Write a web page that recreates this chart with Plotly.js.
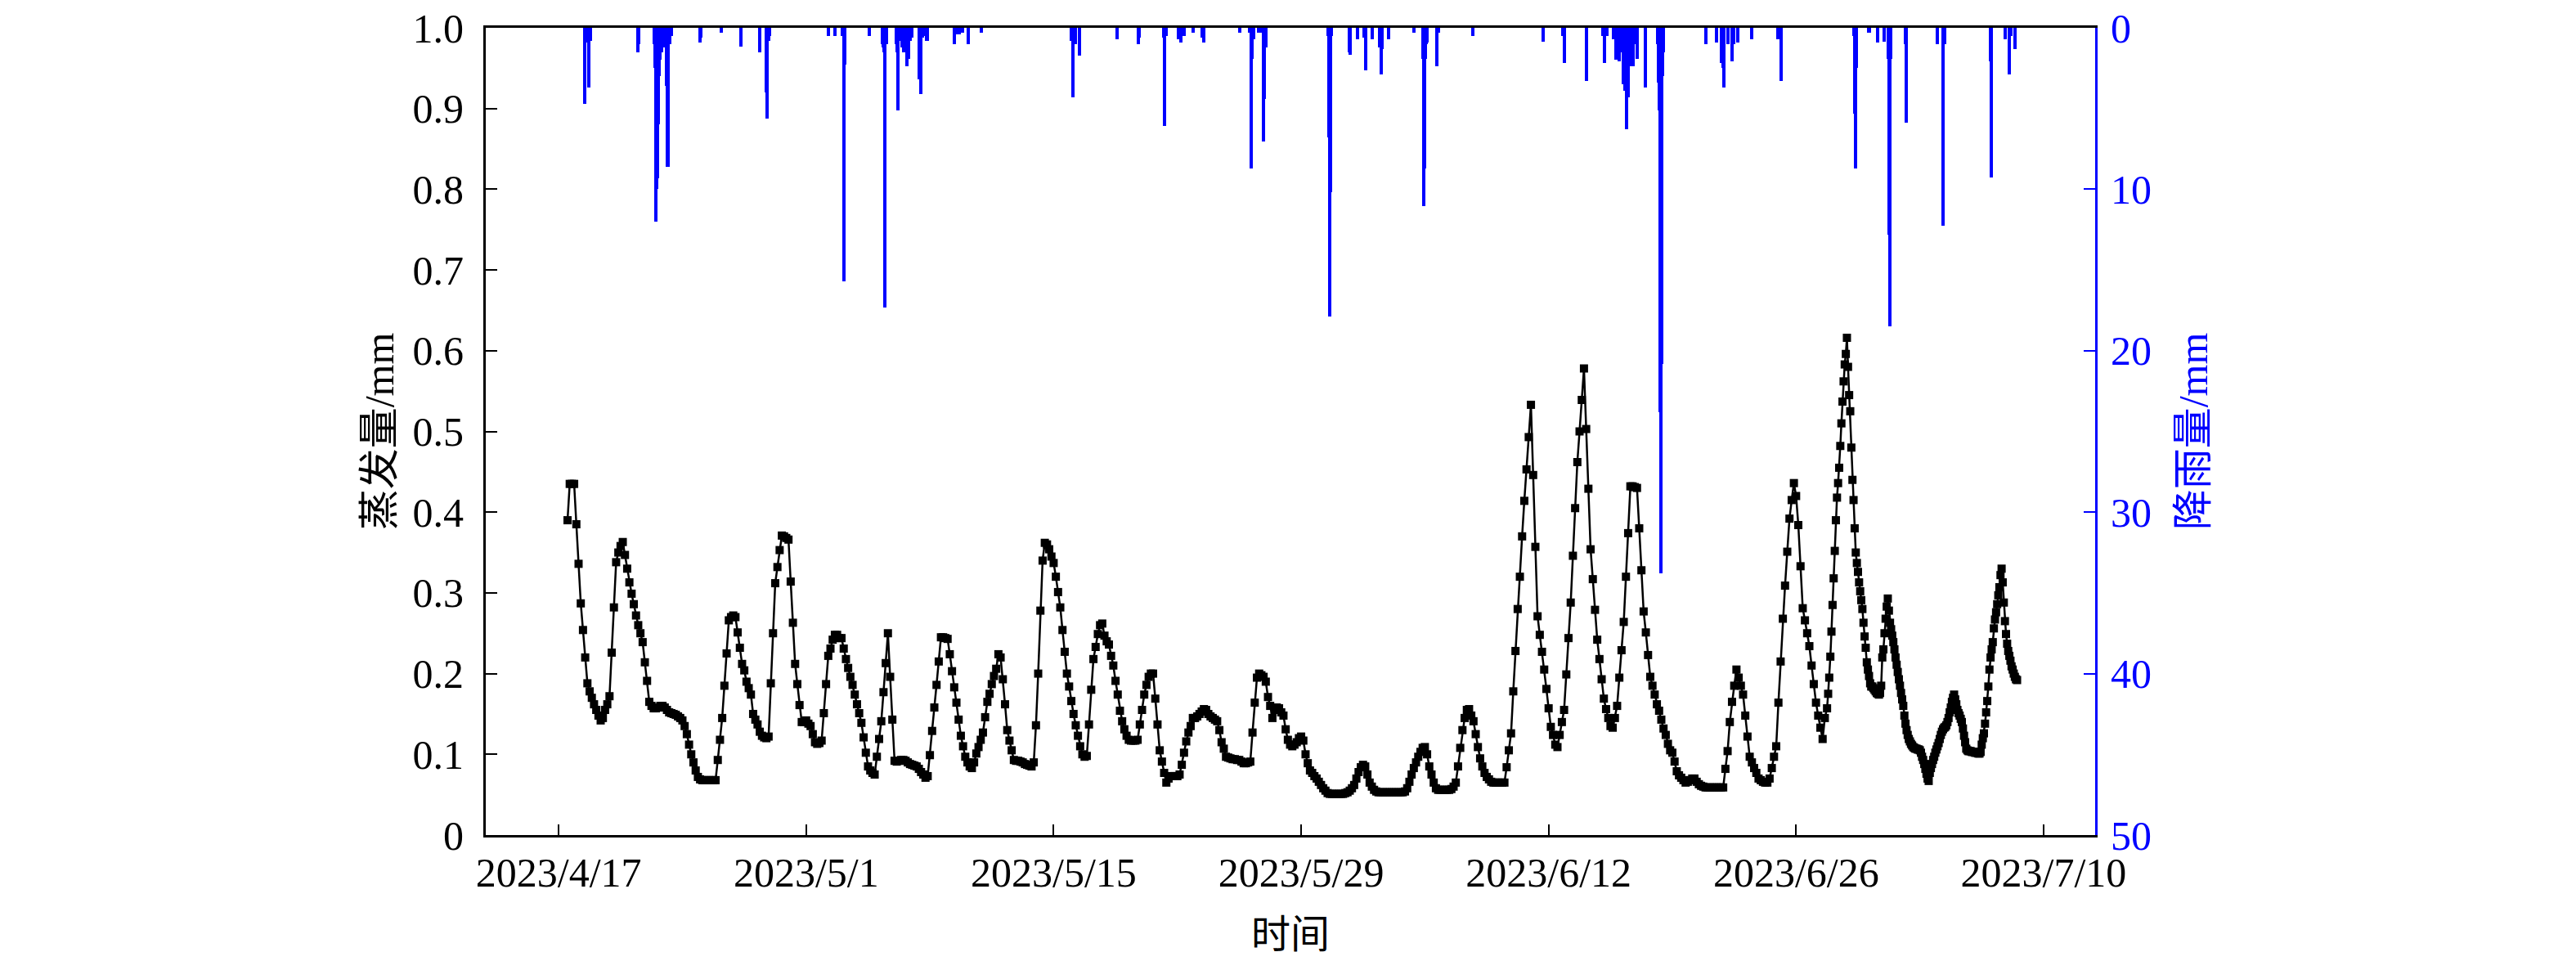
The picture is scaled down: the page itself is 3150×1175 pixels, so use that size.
<!DOCTYPE html>
<html>
<head>
<meta charset="utf-8">
<script src="https://cdn.plot.ly/plotly-3.0.1.min.js"></script>
<style>html,body{margin:0;padding:0;background:#fff;}#chart{width:3150px;height:1175px;}</style>
</head>
<body>
<div id="chart"></div>
<script>
// ---------- DATA ----------
// Evaporation, 3-hourly, starting 2023-04-17 12:00
const evapStartA = '2023-04-17T12:00:00Z';
const evapStepHoursA = 3;
const evapA = [
// 4/17 (12,15,18,21h)
0.39,0.435,0.435,0.435,
// 4/18
0.385,0.336,0.287,0.254,0.220,0.188,0.178,0.170,
// 4/19
0.162,0.155,0.148,0.142,0.145,0.155,0.162,0.172,
// 4/20
0.226,0.282,0.338,0.350,0.358,0.363,0.347,0.330,
// 4/21
0.313,0.299,0.286,0.272,0.260,0.250,0.239,0.214,
// 4/22
0.191,0.165,0.160,0.157,0.157,0.158,0.160,0.160,
// 4/23
0.158,0.155,0.152,0.151,0.150,0.149,0.147,0.145,
// 4/24
0.142,0.135,0.125,0.112,0.100,0.090,0.080,0.072,
// 4/25
0.069,0.068,0.068,0.068,0.068,0.068,0.068,0.068,
// 4/26
0.093,0.118,0.145,0.185,0.225,0.266,0.270,0.272,
// 4/27
0.270,0.251,0.232,0.212,0.204,0.190,0.182,0.174,
// 4/28
0.150,0.143,0.137,0.128,0.123,0.121,0.120,0.122,
// 4/29
0.188,0.250,0.312,0.332,0.353,0.371,0.370,0.368,
// 4/30
0.366,0.314,0.263,0.212,0.187,0.161,0.140,0.140,
// 5/1
0.142,0.138,0.135,0.125,0.115,0.113,0.114,0.117,
// 5/2
0.151,0.187,0.222,0.231,0.242,0.248,0.248,0.244,
// 5/3
0.244,0.231,0.218,0.207,0.196,0.186,0.174,0.162,
// 5/4
0.151,0.139,0.121,0.102,0.085,0.080,0.077,0.075,
// 5/5
0.097,0.119,0.141,0.177,0.213,0.250,0.196,0.143,
// 5/6
0.092,0.091,0.092,0.093,0.093,0.092,0.090,0.088,
// 5/7
0.087,0.086,0.085,0.082,0.078,0.075,0.071,0.073,
// 5/8
0.099,0.129,0.158,0.186,0.215,0.245,0.245,0.244,
// 5/9
0.243,0.224,0.203,0.183,0.164,0.143,0.123,0.110,
// 5/10
0.097,0.090,0.085,0.083,0.090,0.101,0.109,0.118,
// 5/11
0.127,0.146,0.165,0.175,0.187,0.197,0.206,0.224,
// 5/12
0.220,0.193,0.162,0.130,0.117,0.105,0.093,0.092,
// 5/13
0.092,0.091,0.090,0.088,0.087,0.086,0.085,0.090,
// 5/14
0.136,0.200,0.278,0.340,0.362,0.360,0.354,0.345,
// 5/15
0.337,0.320,0.301,0.282,0.254,0.227,0.200,0.184,
// 5/16
0.166,0.150,0.136,0.123,0.110,0.100,0.097,0.098,
// 5/17
0.137,0.180,0.218,0.233,0.249,0.260,0.262,0.247,
// 5/18
0.240,0.236,0.222,0.210,0.191,0.174,0.154,0.141,
// 5/19
0.131,0.123,0.118,0.117,0.117,0.117,0.118,0.137,
// 5/20
0.155,0.174,0.186,0.196,0.200,0.200,0.169,0.137,
// 5/21
0.105,0.091,0.077,0.065,0.070,0.073,0.073,0.073,
// 5/22
0.073,0.075,0.087,0.102,0.116,0.127,0.135,0.145,
// 5/23
0.145,0.147,0.150,0.153,0.156,0.155,0.150,0.147,
// 5/24
0.145,0.143,0.141,0.130,0.115,0.107,0.097,0.096,
// 5/25
0.095,0.094,0.094,0.093,0.093,0.091,0.089,0.089,
// 5/26
0.090,0.091,0.127,0.164,0.195,0.200,0.198,0.196,
// 5/27
0.190,0.171,0.160,0.145,0.155,0.158,0.157,0.152,
// 5/28
0.148,0.131,0.118,0.112,0.110,0.112,0.115,0.120,
// 5/29
0.122,0.117,0.100,0.089,0.080,0.077,0.073,0.070,
// 5/30
0.066,0.062,0.058,0.055,0.052,0.051,0.051,0.051,
// 5/31
0.051,0.051,0.051,0.051,0.052,0.053,0.055,0.058,
// 6/1
0.062,0.070,0.078,0.084,0.087,0.085,0.075,0.065,
// 6/2
0.060,0.056,0.054,0.053,0.053,0.053,0.053,0.053,
// 6/3
0.053,0.053,0.053,0.053,0.053,0.053,0.053,0.054,
// 6/4
0.058,0.066,0.075,0.083,0.090,0.097,0.103,0.108,
// 6/5
0.109,0.100,0.085,0.075,0.065,0.058,0.056,0.056,
// 6/6
0.056,0.056,0.056,0.056,0.057,0.060,0.065,0.085,
// 6/7
0.108,0.130,0.145,0.155,0.156,0.148,0.141,0.125,
// 6/8
0.109,0.095,0.085,0.077,0.072,0.069,0.066,0.065,
// 6/9
0.065,0.065,0.065,0.065,0.065,0.084,0.105,0.126,
// 6/10
0.178,0.228,0.280,0.320,0.370,0.414,0.453,0.493,
// 6/11
0.533,0.446,0.357,0.271,0.248,0.227,0.205,0.181,
// 6/12
0.157,0.134,0.124,0.112,0.109,0.124,0.140,0.155,
// 6/13
0.199,0.244,0.288,0.346,0.405,0.462,0.500,0.539,
// 6/14
0.578,0.503,0.429,0.354,0.317,0.279,0.242,0.218,
// 6/15
0.193,0.169,0.156,0.145,0.135,0.133,0.145,0.160,
// 6/16
0.195,0.229,0.264,0.320,0.374,0.432,0.432,0.431,
// 6/17
0.430,0.380,0.328,0.277,0.251,0.223,0.196,0.185,
// 6/18
0.174,0.162,0.154,0.143,0.132,0.124,0.113,0.105,
// 6/19
0.102,0.091,0.079,0.074,0.071,0.068,0.065,0.066,
// 6/20
0.068,0.070,0.070,0.066,0.063,0.061,0.060,0.059,
// 6/21
0.059,0.059,0.059,0.059,0.059,0.059,0.059,0.059,
// 6/22
0.082,0.104,0.140,0.165,0.185,0.205,0.195,0.185,
// 6/23
0.174,0.148,0.122,0.097,0.090,0.083,0.077,0.070,
// 6/24
0.068,0.066,0.065,0.065,0.070,0.083,0.097,0.110,
// 6/25
0.164,0.215,0.268,0.309,0.351,0.392,0.415,0.436,
// 6/26
0.420,0.384,0.333,0.281,0.266,0.250,0.234,0.210,
// 6/27 (0..15h)
0.187,0.164,0.148,0.133,0.119,0.145
];

// Evaporation, 1.5-hourly, starting 2023-06-27 18:00
const evapStartB = '2023-06-27T18:00:00Z';
const evapStepHoursB = 1.5;
const evapB = [
0.157,0.175,0.195,0.221,0.252,0.285,0.318,0.352,0.390,0.418,
0.436,0.455,0.482,0.510,0.537,0.562,0.583,0.596,0.616,0.580,
0.545,0.525,0.480,0.440,0.415,0.380,0.350,0.337,0.326,0.313,
0.302,0.291,0.280,0.263,0.246,0.232,0.214,0.205,0.197,0.188,
0.184,0.184,0.182,0.180,0.178,0.176,0.175,0.174,0.176,0.185,
0.220,0.230,0.250,0.268,0.283,0.293,0.278,0.263,0.255,0.247,
0.239,0.230,0.220,0.211,0.202,0.193,0.185,0.176,0.168,0.160,
0.148,0.138,0.130,0.124,0.119,0.116,0.113,0.111,0.109,0.108,
0.107,0.107,0.106,0.106,0.105,0.102,0.097,0.093,0.088,0.082,
0.076,0.070,0.067,0.077,0.083,0.088,0.093,0.097,0.102,0.106,
0.110,0.114,0.119,0.124,0.128,0.131,0.133,0.134,0.136,0.140,
0.145,0.152,0.158,0.165,0.170,0.174,0.168,0.162,0.155,0.151,
0.148,0.144,0.140,0.132,0.123,0.115,0.107,0.105,0.104,0.104,
0.104,0.103,0.103,0.103,0.102,0.102,0.102,0.101,0.101,0.103,
0.112,0.120,0.126,0.138,0.152,0.166,0.184,0.205,0.220,0.230,
0.239,0.256,0.267,0.276,0.286,0.297,0.307,0.322,0.330,0.313,
0.288,0.265,0.249,0.237,0.228,0.222,0.216,0.209,0.205,0.200,
0.196,0.193,0.192
];

// Hourly rainfall (mm), only non-zero hours
const rainTime = [
'2023-04-18 11:00','2023-04-18 14:00','2023-04-18 17:00','2023-04-18 19:00',
'2023-04-21 12:00','2023-04-21 13:00',
'2023-04-22 10:00','2023-04-22 11:00','2023-04-22 12:00','2023-04-22 13:00','2023-04-22 14:00','2023-04-22 15:00',
'2023-04-22 16:00','2023-04-22 18:00','2023-04-22 20:00','2023-04-22 22:00',
'2023-04-23 02:00','2023-04-23 04:00','2023-04-23 05:00','2023-04-23 07:00','2023-04-23 09:00',
'2023-04-25 00:00','2023-04-25 01:00','2023-04-26 05:00','2023-04-27 07:00',
'2023-04-28 09:00','2023-04-28 18:00','2023-04-28 19:00','2023-04-28 21:00','2023-04-28 22:00',
'2023-05-02 06:00','2023-05-02 15:00','2023-05-03 01:00','2023-05-03 03:00','2023-05-03 04:00',
'2023-05-04 14:00','2023-05-05 08:00','2023-05-05 09:00','2023-05-05 10:00','2023-05-05 11:00','2023-05-05 13:00',
'2023-05-06 02:00','2023-05-06 03:00','2023-05-06 05:00','2023-05-06 07:00','2023-05-06 10:00','2023-05-06 12:00',
'2023-05-06 17:00','2023-05-06 19:00','2023-05-06 21:00','2023-05-06 23:00',
'2023-05-07 10:00','2023-05-07 12:00','2023-05-07 14:00','2023-05-07 17:00','2023-05-07 20:00',
'2023-05-09 09:00','2023-05-09 12:00','2023-05-09 16:00','2023-05-09 20:00','2023-05-10 04:00','2023-05-10 22:00',
'2023-05-16 00:00','2023-05-16 02:00','2023-05-16 03:00','2023-05-16 05:00','2023-05-16 11:00',
'2023-05-18 14:00','2023-05-19 19:00','2023-05-19 20:00',
'2023-05-21 05:00','2023-05-21 06:00','2023-05-21 07:00','2023-05-21 09:00',
'2023-05-22 01:00','2023-05-22 05:00','2023-05-22 09:00','2023-05-22 21:00','2023-05-23 10:00','2023-05-23 12:00',
'2023-05-25 13:00','2023-05-26 02:00','2023-05-26 04:00','2023-05-26 05:00','2023-05-26 08:00','2023-05-26 14:00',
'2023-05-26 17:00','2023-05-26 21:00','2023-05-26 22:00','2023-05-27 00:00',
'2023-05-30 13:00','2023-05-30 14:00','2023-05-30 15:00','2023-05-30 16:00','2023-05-30 17:00',
'2023-05-31 18:00','2023-05-31 19:00','2023-06-01 05:00','2023-06-01 13:00','2023-06-01 16:00',
'2023-06-02 00:00','2023-06-02 11:00','2023-06-02 13:00','2023-06-02 14:00','2023-06-02 23:00',
'2023-06-04 09:00','2023-06-04 21:00','2023-06-04 22:00','2023-06-04 23:00',
'2023-06-05 00:00','2023-06-05 01:00','2023-06-05 02:00','2023-06-05 03:00','2023-06-05 16:00','2023-06-05 18:00',
'2023-06-07 17:00','2023-06-11 17:00','2023-06-12 19:00','2023-06-12 21:00','2023-06-14 03:00',
'2023-06-15 02:00','2023-06-15 04:00','2023-06-15 07:00','2023-06-15 16:00','2023-06-15 19:00',
'2023-06-16 00:00','2023-06-16 03:00','2023-06-16 05:00','2023-06-16 08:00','2023-06-16 10:00','2023-06-16 12:00',
'2023-06-16 14:00','2023-06-16 18:00','2023-06-16 19:00','2023-06-16 22:00','2023-06-17 00:00','2023-06-17 11:00',
'2023-06-18 04:00','2023-06-18 05:00','2023-06-18 06:00','2023-06-18 07:00','2023-06-18 08:00','2023-06-18 09:00',
'2023-06-18 10:00','2023-06-18 11:00','2023-06-18 12:00',
'2023-06-20 22:00','2023-06-21 12:00','2023-06-21 19:00','2023-06-21 20:00','2023-06-21 21:00','2023-06-21 22:00',
'2023-06-22 04:00','2023-06-22 09:00','2023-06-22 11:00','2023-06-22 17:00','2023-06-23 12:00',
'2023-06-24 23:00','2023-06-25 04:00',
'2023-06-29 07:00','2023-06-29 08:00','2023-06-29 09:00','2023-06-29 10:00',
'2023-06-30 03:00','2023-06-30 15:00','2023-07-01 00:00','2023-07-01 05:00','2023-07-01 06:00','2023-07-01 07:00','2023-07-01 08:00',
'2023-07-02 04:00','2023-07-02 05:00','2023-07-04 00:00','2023-07-04 08:00','2023-07-04 10:00',
'2023-07-07 00:00','2023-07-07 01:00','2023-07-07 20:00','2023-07-08 01:00','2023-07-08 04:00','2023-07-08 09:00'
];
const rainMm = [
4.7,0.9,3.7,0.8,
1.5,1.0,
1.0,2.5,12.0,10.0,9.3,6.0,
3.0,2.0,1.5,1.2,
3.6,8.6,2.0,1.0,0.5,
0.9,0.6,0.3,1.15,
1.5,4.0,5.6,0.8,0.5,
0.5,0.5,0.5,15.7,2.3,
0.5,1.0,1.2,1.5,17.3,1.0,
1.0,1.5,5.1,0.8,1.2,1.5,
2.4,1.9,0.8,0.6,
3.2,4.1,0.6,0.5,0.8,
1.0,0.4,0.4,0.3,1.0,0.3,
0.8,4.3,0.9,1.0,1.7,
0.7,1.0,0.6,
0.6,6.1,3.1,0.5,
0.7,0.9,0.5,0.3,0.6,0.9,
0.3,0.3,8.7,1.9,0.7,0.3,
0.3,7.05,4.4,1.2,
0.5,6.8,17.9,10.2,0.5,
1.5,1.66,0.7,0.6,2.65,
0.7,1.2,2.87,1.3,0.7,
0.3,1.9,11.05,8.7,
1.0,1.9,1.0,0.9,2.4,0.3,
0.5,0.85,0.5,2.2,3.27,
0.5,2.2,0.5,0.7,2.0,
2.1,1.5,3.5,3.9,6.3,4.3,
2.4,1.3,2.4,1.0,1.9,3.7,
1.0,3.4,5.1,23.8,33.8,20.8,
5.1,3.0,1.5,
1.0,0.9,2.2,1.5,2.5,3.7,
1.0,2.1,1.0,0.9,0.7,
0.7,3.27,
0.5,5.3,8.7,2.5,
0.3,0.9,0.85,1.9,12.8,18.5,1.9,
1.0,5.9,1.0,12.27,1.0,
2.1,9.29,0.7,2.9,0.5,1.3
];

const xTickVals = ['2023-04-17','2023-05-01','2023-05-15','2023-05-29','2023-06-12','2023-06-26','2023-07-10'];
const xTickText = ['2023/4/17','2023/5/1','2023/5/15','2023/5/29','2023/6/12','2023/6/26','2023/7/10'];
const yTickVals = [0,0.1,0.2,0.3,0.4,0.5,0.6,0.7,0.8,0.9,1.0];
const yTickText = ['0','0.1','0.2','0.3','0.4','0.5','0.6','0.7','0.8','0.9','1.0'];
const y2TickVals = [0,10,20,30,40,50];

// ---------- BUILD ----------
function timeSeries(start, stepHours, n) {
  const t0 = Date.parse(start);
  const out = [];
  for (let i = 0; i < n; i++) {
    out.push(new Date(t0 + i * stepHours * 3600000).toISOString().replace('T', ' ').slice(0, 19));
  }
  return out;
}
const evapX = timeSeries(evapStartA, evapStepHoursA, evapA.length)
  .concat(timeSeries(evapStartB, evapStepHoursB, evapB.length));
const evapY = evapA.concat(evapB);

const BLUE = '#0000FF';
const FONT = 'Liberation Serif, Times New Roman, Noto Sans CJK SC, serif';

const traces = [
  {
    type: 'bar', x: rainTime, y: rainMm, yaxis: 'y2',
    width: 4.5 * 3600000,
    marker: { color: BLUE, line: { width: 0 } },
    hoverinfo: 'skip'
  },
  {
    type: 'scatter', mode: 'lines+markers', x: evapX, y: evapY,
    line: { color: 'black', width: 2.5 },
    marker: { symbol: 'square', size: 10, color: 'black', line: { width: 0 } },
    hoverinfo: 'skip'
  }
];

const layout = {
  width: 3150, height: 1175,
  margin: { l: 594, r: 588, t: 34, b: 154, pad: 0 },
  paper_bgcolor: 'white', plot_bgcolor: 'white',
  showlegend: false,
  font: { family: FONT, size: 50, color: 'black' },
  xaxis: {
    type: 'date',
    range: ['2023-04-12 21:00', '2023-07-12 22:00'],
    tickmode: 'array', tickvals: xTickVals, ticktext: xTickText,
    ticks: 'inside', ticklen: 13, tickwidth: 2, tickcolor: 'black',
    showline: true, linecolor: 'black', linewidth: 3, mirror: true,
    showgrid: false, zeroline: false,
    tickfont: { family: FONT, size: 50, color: 'black' },
    ticklabelstandoff: 0,
    title: { text: '时间', font: { family: FONT, size: 48, color: 'black' }, standoff: 32 }
  },
  yaxis: {
    range: [0, 1],
    tickmode: 'array', tickvals: yTickVals, ticktext: yTickText,
    ticks: 'inside', ticklen: 14, tickwidth: 2, tickcolor: 'black',
    showline: true, linecolor: 'black', linewidth: 3,
    showgrid: false, zeroline: false,
    tickfont: { family: FONT, size: 50, color: 'black' },
    ticklabelstandoff: 14,
    title: { text: '蒸发量/mm', font: { family: FONT, size: 50, color: 'black' }, standoff: 8 }
  },
  yaxis2: {
    overlaying: 'y', side: 'right', anchor: 'x',
    range: [50, 0],
    tickmode: 'array', tickvals: y2TickVals,
    ticks: 'inside', ticklen: 14, tickwidth: 2, tickcolor: BLUE,
    showline: true, linecolor: BLUE, linewidth: 3,
    showgrid: false, zeroline: false,
    tickfont: { family: FONT, size: 50, color: BLUE },
    ticklabelstandoff: 6,
    title: { text: '降雨量/mm', font: { family: FONT, size: 50, color: BLUE }, standoff: 34 }
  },
  bargap: 0
};

Plotly.newPlot('chart', traces, layout, { staticPlot: true, displayModeBar: false });
</script>
</body>
</html>
